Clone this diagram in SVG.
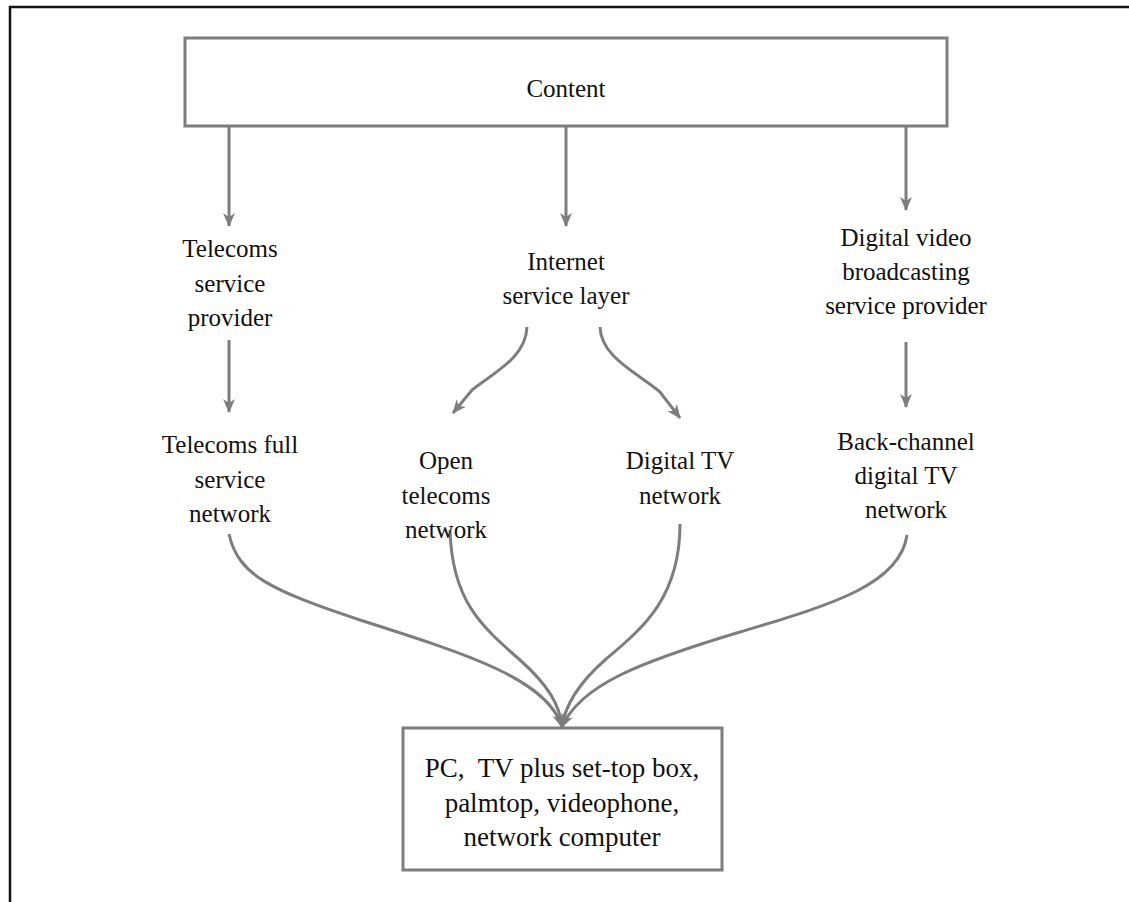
<svg xmlns="http://www.w3.org/2000/svg" width="1129" height="902" viewBox="0 0 1129 902">
  <style>
    .lbl { font-family: "Liberation Serif", "Times New Roman", serif; font-size: 25px; fill: #111; text-anchor: middle; }
    .big { font-size: 27px; white-space: pre; }
    .box { fill: #fff; stroke: #7d7d7d; stroke-width: 3; }
    .conn { fill: none; stroke: #7d7d7d; stroke-width: 3; }
    .frame { fill: none; stroke: #111; stroke-width: 2.5; }
  </style>
  <defs>
    <marker id="arrow" viewBox="0 0 14 14" refX="13" refY="7" markerWidth="14" markerHeight="14" markerUnits="userSpaceOnUse" orient="auto">
      <path d="M0,1 L14,7 L0,13 L4,7 z" fill="#7d7d7d"/>
    </marker>
  </defs>

  <rect width="1129" height="902" fill="#fff"/>
  <!-- page frame: top and left rules -->
  <path class="frame" d="M10,902 L10,7 L1129,7"/>

  <!-- connectors -->
  <g id="connectors">
    <path class="conn" d="M229,126 L229,226" marker-end="url(#arrow)"/>
    <path class="conn" d="M566,126 L566,226" marker-end="url(#arrow)"/>
    <path class="conn" d="M906,126 L906,210" marker-end="url(#arrow)"/>
    <path class="conn" d="M229,340 L229,412" marker-end="url(#arrow)"/>
    <path class="conn" d="M906,342 L906,407" marker-end="url(#arrow)"/>
    <path class="conn" d="M527,327 C526,357 495,372 472,390 L453,413" marker-end="url(#arrow)"/>
    <path class="conn" d="M600,327 C601,357 636,372 660,392 L680,418" marker-end="url(#arrow)"/>
    <path class="conn" d="M229,534 C238,575 270,590 360,620 C470,655 548,680 562,727" marker-end="url(#arrow)"/>
    <path class="conn" d="M450,530 C452,600 480,625 520,660 C548,685 560,705 562,727" marker-end="url(#arrow)"/>
    <path class="conn" d="M680,524 C680,600 640,630 605,660 C580,682 565,705 562,727" marker-end="url(#arrow)"/>
    <path class="conn" d="M907,535 C900,585 830,605 740,632 C640,662 580,685 562,727" marker-end="url(#arrow)"/>
  </g>

  <g id="content">
    <rect class="box" x="185" y="38" width="762" height="88"/>
    <text class="lbl" x="566" y="97">Content</text>
  </g>

  <g id="telecoms-provider">
    <text class="lbl" x="230" y="257">Telecoms</text>
    <text class="lbl" x="230" y="292">service</text>
    <text class="lbl" x="230" y="326">provider</text>
  </g>

  <g id="internet-layer">
    <text class="lbl" x="566" y="270">Internet</text>
    <text class="lbl" x="566" y="304">service layer</text>
  </g>

  <g id="dvb-provider">
    <text class="lbl" x="906" y="246">Digital video</text>
    <text class="lbl" x="906" y="280">broadcasting</text>
    <text class="lbl" x="906" y="314">service provider</text>
  </g>

  <g id="telecoms-full">
    <text class="lbl" x="230" y="453">Telecoms full</text>
    <text class="lbl" x="230" y="488">service</text>
    <text class="lbl" x="230" y="522">network</text>
  </g>

  <g id="open-telecoms">
    <text class="lbl" x="446" y="469">Open</text>
    <text class="lbl" x="446" y="504">telecoms</text>
    <text class="lbl" x="446" y="538">network</text>
  </g>

  <g id="digital-tv">
    <text class="lbl" x="680" y="469">Digital TV</text>
    <text class="lbl" x="680" y="504">network</text>
  </g>

  <g id="back-channel">
    <text class="lbl" x="906" y="450">Back-channel</text>
    <text class="lbl" x="906" y="484">digital TV</text>
    <text class="lbl" x="906" y="518">network</text>
  </g>

  <g id="devices">
    <rect class="box" x="403" y="728" width="319" height="142"/>
    <text class="lbl big" x="562" y="777">PC,  TV plus set-top box,</text>
    <text class="lbl big" x="562" y="812">palmtop, videophone,</text>
    <text class="lbl big" x="562" y="846">network computer</text>
  </g>
</svg>
